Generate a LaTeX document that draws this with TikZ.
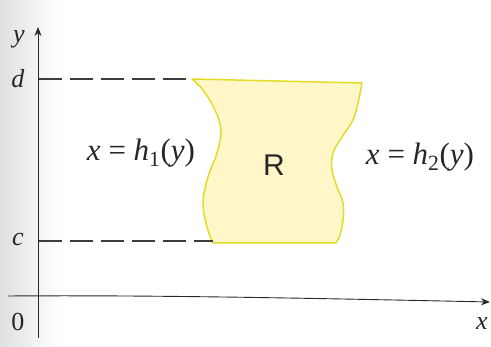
\documentclass[tikz,border=0pt]{standalone}
\usepackage{fontspec}
\newfontfamily\sansR{Liberation Sans}
\newfontfamily\tms{Liberation Serif}
\usetikzlibrary{arrows.meta}
\definecolor{regfill}{RGB}{255,247,200}
\definecolor{regdraw}{RGB}{228,218,40}
\definecolor{axisc}{RGB}{40,40,40}
\definecolor{edgegray}{RGB}{222,224,224}
\tikzset{
  axis/.style={draw=axisc, line width=0.9pt, -{Stealth[length=9pt,width=7pt]}},
  guide/.style={draw=axisc!90, line width=1.2pt, dash pattern=on 23pt off 8pt},
  lbl/.style={font=\tms\itshape\fontsize{26}{30}\selectfont, inner sep=0pt, text=black!85},
  eq/.style={font=\tms\fontsize{31}{36}\selectfont, inner sep=0pt, text=black!85},
}
\newcommand{\itx}[1]{\textit{#1}}
\begin{document}
\begin{tikzpicture}[x=1pt,y=1pt]
\useasboundingbox (0,0) rectangle (491,347);
\shade[left color=edgegray, right color=white] (0,0) rectangle (60,347);
% region
\coordinate (tl) at (192,268);
\coordinate (tr) at (362,264);
\coordinate (br) at (336,104);
\coordinate (bl) at (213,104);
\path[fill=regfill, draw=regdraw, line width=1.5pt, line join=round]
  (tl) -- (tr)
  -- plot[smooth, tension=0.6] coordinates {(362,264) (358,244) (353,227) (342,210) (333,194) (332,177) (337,160) (343,144) (343,127) (340,112) (336,104)}
  -- (bl)
  -- plot[smooth, tension=0.6] coordinates {(213,104) (207,120) (203,144) (208,170) (217,194) (221,217) (215,237) (203,257) (192,268)}
  -- cycle;
% guides
\coordinate (dL) at (39,268);
\coordinate (cL) at (39,106);
\draw[guide] (dL) -- (tl);
\draw[guide] (cL) -- (bl |- cL);
% axes
\coordinate (xs) at (8,51);
\coordinate (xe) at (490,45);
\coordinate (ys) at (38,9);
\coordinate (ye) at (38,320);
\draw[axis] (xs) .. controls (150,52) and (300,49) .. (xe);
\draw[axis] (ys) -- (ye);
% labels
\node[lbl] (ylab) at (19,308) {y};
\node[lbl] (dlab) at (18,268) {d};
\node[lbl] (clab) at (18,107) {c};
\node[lbl, font=\tms\fontsize{26}{30}\selectfont] (olab) at (18,25) {0};
\node[lbl] (xlab) at (482,23) {x};
\node[eq] (h1) at (141,194) {\itx{x} = \itx{h}\textsubscript{1}(\itx{y})};
\node[eq] (h2) at (420,190) {\itx{x} = \itx{h}\textsubscript{2}(\itx{y})};
\node[lbl, font=\sansR\fontsize{30}{34}\selectfont] (R) at (274,182) {R};
\end{tikzpicture}
\end{document}
